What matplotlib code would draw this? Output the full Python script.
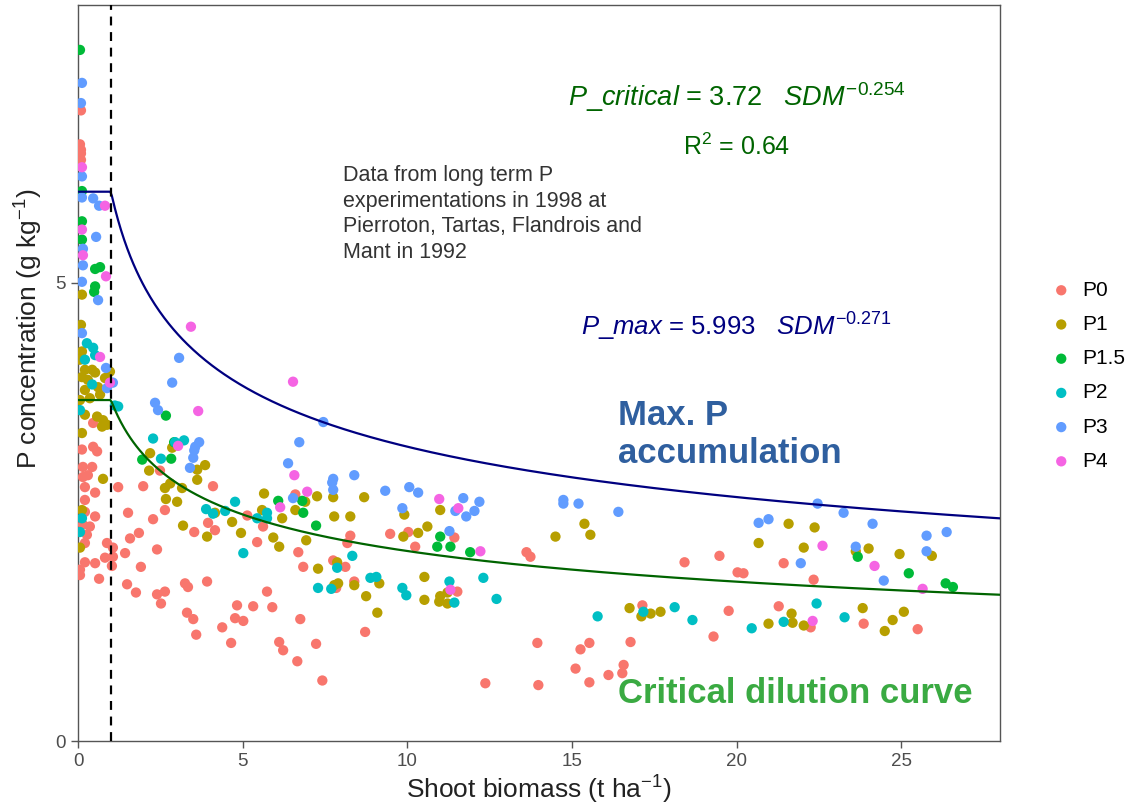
import numpy as np
import matplotlib
matplotlib.use("Agg")
import matplotlib.pyplot as plt

plt.rcParams['font.family'] = ['Liberation Sans', 'DejaVu Sans']
plt.rcParams['mathtext.fontset'] = 'custom'
plt.rcParams['mathtext.rm'] = 'Liberation Sans'
plt.rcParams['mathtext.it'] = 'Liberation Sans:italic'

# ---- data (shoot biomass t/ha, P concentration g/kg) ----
p0_x = [0.09, 0.06, 0.09, 0.09, 0.09, 0.12, 0.46, 0.58, 0.15, 0.43, 0.15, 0.30, 0.21, 0.52,
        0.21, 1.22, 1.98, 0.21, 0.52, 0.15, 0.36, 0.27, 0.21, 0.88, 1.06, 0.82, 1.06, 0.21,
        0.52, 1.03, 1.43, 0.06, 0.06, 0.64, 1.49, 1.76, 1.52, 1.58, 1.85, 2.40, 1.91, 2.28,
        2.64, 2.40, 2.64, 2.52, 3.25, 3.34, 2.49, 4.10, 3.95, 4.16, 3.53, 3.31, 3.50, 3.59,
        4.38, 4.65, 4.83, 4.77, 5.02, 5.32, 5.44, 3.92, 5.14, 5.62, 6.69, 6.84, 5.74, 5.90,
        6.75, 6.11, 6.23, 7.23, 6.66, 7.42, 6.60, 7.75, 8.12, 7.84, 8.39, 8.27, 8.18, 8.72,
        9.48, 10.03, 10.24, 11.43, 11.52, 12.37, 13.62, 13.74, 13.95, 13.98, 15.11, 15.26,
        15.53, 15.53, 16.11, 16.57, 16.53, 16.78, 17.14, 18.42, 19.30, 19.48, 19.76, 20.03,
        20.21, 21.28, 21.43, 22.34, 22.25, 23.86, 25.50, 0.46]
p0_y = [6.88, 6.51, 6.45, 6.41, 6.34, 3.18, 3.21, 3.16, 2.99, 2.99, 2.88, 2.90, 2.77, 2.71,
        2.63, 2.77, 2.78, 2.50, 2.45, 2.36, 2.34, 2.25, 2.16, 2.16, 2.11, 2.00, 2.01, 1.95,
        1.94, 1.91, 2.05, 1.87, 1.81, 1.77, 1.71, 1.62, 2.49, 2.21, 2.27, 2.09, 1.90, 2.42,
        2.52, 1.60, 1.63, 1.50, 1.72, 1.68, 2.95, 2.78, 2.38, 2.30, 2.28, 1.40, 1.33, 1.16,
        1.24, 1.07, 1.48, 1.34, 1.31, 1.47, 2.17, 1.74, 2.46, 2.34, 2.06, 1.90, 1.63, 1.46,
        1.33, 1.08, 0.99, 1.06, 0.87, 0.66, 2.69, 1.97, 1.90, 1.67, 1.74, 2.24, 2.16, 1.19,
        2.26, 2.28, 2.12, 2.22, 1.63, 0.63, 2.06, 2.01, 1.07, 0.61, 0.79, 1.00,
        1.07, 0.64, 0.72, 0.83, 0.74, 1.08, 1.48, 1.95, 1.14, 2.02, 1.42, 1.84,
        1.83, 1.47, 1.94, 1.76, 1.24, 1.28, 1.22, 3.47]

p1_x = [0.12, 0.09, 0.12, 0.21, 0.43, 0.52, 0.12, 0.21, 0.61, 0.06, 0.36, 0.67, 0.82, 0.21,
        0.58, 0.76, 0.73, 0.88, 0.12, 0.76, 0.12, 0.06, 0.30, 0.97, 0.06,
        2.19, 2.86, 3.86, 3.62, 2.16, 3.62, 2.64, 2.80, 3.16, 2.67, 3.01, 4.16, 3.19, 4.68,
        3.92, 4.95, 5.65, 5.59, 6.20, 5.93, 6.11, 6.60, 6.90, 6.93, 7.26, 7.75, 8.69, 7.78,
        8.27, 9.91, 11.00, 10.61, 10.33, 9.88, 7.29, 7.87, 7.78, 7.90, 8.39, 9.15, 8.75,
        9.09, 10.52, 10.52, 11.00, 11.22, 10.97, 11.22, 14.50, 15.38, 15.56, 16.75, 17.11,
        17.39, 17.69, 21.58, 22.37, 20.67, 22.04, 23.62, 24.01, 24.95, 25.93, 21.67, 23.83,
        25.08, 24.74, 20.97, 21.70, 22.04, 24.50]
p1_y = [4.87, 4.54, 4.25, 4.05, 4.05, 4.02, 3.97, 3.83, 3.86, 3.72, 3.74, 3.78, 3.96, 3.56,
        3.54, 3.50, 3.43, 3.45, 3.36, 2.86, 2.52, 2.11, 3.94, 4.03, 4.16,
        3.14, 3.20, 3.01, 2.96, 2.95, 2.85, 2.76, 2.81, 2.76, 2.64, 2.61, 2.49, 2.35, 2.39,
        2.23, 2.27, 2.70, 2.52, 2.43, 2.22, 2.12, 2.52, 2.61, 2.19, 2.67, 2.66, 2.66, 2.45,
        2.45, 2.47, 2.52, 2.34, 2.27, 2.23, 1.88, 1.95, 1.70, 1.72, 1.70, 1.72, 1.58,
        1.40, 1.79, 1.54, 1.58, 1.62, 1.52, 1.50, 2.23, 2.37, 2.25, 1.45, 1.36,
        1.39, 1.41, 2.37, 2.33, 2.16, 2.11, 2.07, 2.10, 2.04, 2.02, 1.39, 1.45,
        1.41, 1.32, 1.28, 1.29, 1.26, 1.20]

p15_x = [0.06, 0.12, 0.12, 0.12, 0.52, 0.67, 0.52, 0.49, 2.67, 2.92, 1.95, 2.83, 6.08, 6.81,
         6.84, 7.23, 11.00, 10.91, 11.31, 11.91, 23.68, 25.23, 26.35, 26.57]
p15_y = [7.54, 6.00, 5.67, 5.47, 5.15, 5.17, 4.96, 4.90, 3.55, 3.26, 3.07, 3.08, 2.62, 2.62,
         2.49, 2.35, 2.23, 2.12, 2.12, 2.06, 2.01, 1.83, 1.72, 1.68]

p2_x = [0.27, 0.46, 0.52, 0.21, 0.43, 0.06, 1.12, 1.22, 0.06, 0.12, 2.28, 2.95, 3.22, 2.52,
        3.89, 4.10, 4.47, 4.77, 5.44, 5.74, 5.74, 5.02, 7.87, 8.33, 7.29, 7.69, 8.88, 9.06,
        9.85, 9.97, 11.28, 11.43, 12.31, 12.71, 15.78, 17.17, 18.12, 18.66, 22.43, 23.28,
        20.46, 21.43]
p2_y = [4.34, 4.29, 4.21, 4.16, 3.89, 3.61, 3.66, 3.65, 2.28, 2.43, 3.30, 3.26, 3.28, 3.08,
        2.53, 2.48, 2.51, 2.61, 2.43, 2.49, 2.43, 2.05, 1.89, 2.02, 1.67, 1.66, 1.78, 1.79,
        1.67, 1.59, 1.74, 1.51, 1.78, 1.55, 1.36, 1.41, 1.46, 1.32, 1.50, 1.35,
        1.23, 1.30]

p3_x = [0.12, 0.09, 0.12, 0.12, 0.46, 0.64, 0.55, 0.15, 0.15, 0.12, 0.61, 0.12, 0.85, 0.88,
        1.06, 3.07, 2.86, 2.34, 2.43, 3.68, 3.56, 3.53, 3.50, 3.40, 7.45, 6.72, 6.38, 7.75,
        7.72, 7.75, 8.39, 9.33, 10.06, 10.33, 9.85, 11.70, 12.19, 11.46, 11.79, 12.04, 11.28,
        6.53, 14.74, 14.74, 15.20, 16.41, 22.46, 23.25, 24.13, 20.67, 20.97, 25.77, 26.38,
        23.62, 25.77, 21.95, 24.47]
p3_y = [7.18, 6.96, 6.16, 5.93, 5.92, 5.84, 5.50, 5.37, 5.19, 5.01, 4.81, 4.45, 4.07, 3.85,
        3.91, 4.18, 3.91, 3.69, 3.61, 3.26, 3.21, 3.17, 3.09, 2.98, 3.48, 3.26, 3.03, 2.86,
        2.82, 2.74, 2.90, 2.73, 2.77, 2.71, 2.54, 2.65, 2.61, 2.51, 2.45, 2.51, 2.29,
        2.65, 2.63, 2.59, 2.59, 2.50, 2.59, 2.49, 2.37, 2.38, 2.42, 2.24, 2.28,
        2.12, 2.07, 1.94, 1.75]

p4_x = [0.12, 0.82, 0.12, 0.15, 0.85, 0.67, 0.97, 3.43, 3.65, 3.04, 6.53, 6.57, 6.96, 6.14,
        10.97, 11.55, 12.22, 11.31, 22.61, 24.19, 25.65, 22.31]
p4_y = [6.26, 5.84, 5.58, 5.30, 5.07, 4.19, 3.91, 4.52, 3.60, 3.22, 3.92, 2.90, 2.72, 2.55,
        2.64, 2.54, 2.07, 1.65, 2.13, 1.91, 1.66, 1.31]

groups = ['P0', 'P1', 'P1.5', 'P2', 'P3', 'P4']
group_x = [p0_x, p1_x, p15_x, p2_x, p3_x, p4_x]
group_y = [p0_y, p1_y, p15_y, p2_y, p3_y, p4_y]
colors = ['#F8766D', '#B79F00', '#00BA38', '#00BFC4', '#619CFF', '#F564E3']

# dilution curve parameters
a_max, b_max = 5.993, -0.271
a_crit, b_crit = 3.72, -0.254

fig = plt.figure(figsize=(11.28, 8.09), dpi=100)
ax = fig.add_axes([78 / 1128, 68 / 809, 922 / 1128, 736 / 809])

for name, xs, ys, c in zip(groups, group_x, group_y, colors):
    ax.scatter(xs, ys, s=55, color=c, edgecolors='none', label=name, zorder=3)

xx = np.linspace(0, 28, 600)
ax.plot(xx, np.where(xx < 1, a_max, a_max * np.maximum(xx, 1) ** b_max), color='#000080', lw=1.6, zorder=4)
ax.plot(xx, np.where(xx < 1, a_crit, a_crit * np.maximum(xx, 1) ** b_crit), color='#006400', lw=1.6, zorder=4)
ax.axvline(1, color='black', ls=(0, (4, 3)), lw=1.6, zorder=5)

ax.set_xlim(0, 28)
ax.set_ylim(0, 8.03)
ax.set_xticks([0, 5, 10, 15, 20, 25])
ax.set_yticks([0, 5])
for s in ax.spines.values():
    s.set_color('#555555')
    s.set_linewidth(1.0)
ax.tick_params(colors='#555555', labelcolor='#4d4d4d', labelsize=13.5, length=5, width=1)
ax.set_xlabel('Shoot biomass (t ha$^{-1}$)', fontsize=19, color='#222222', labelpad=3)
ax.set_ylabel('P concentration (g kg$^{-1}$)', fontsize=19, color='#222222')
ax.yaxis.set_label_coords(-0.036, 0.56)

ax.text(20.0, 7.02, r'$\it{P\_critical}$ = 3.72   $\it{SDM}^{-0.254}$', color='#006400',
        fontsize=19.5, ha='center', va='center')
ax.text(20.0, 6.48, r'R$^2$ = 0.64', color='#006400', fontsize=18, ha='center', va='center')
ax.text(8.05, 5.75, 'Data from long term P\nexperimentations in 1998 at\nPierroton, Tartas, Flandrois and\nMant in 1992',
        color='#333333', fontsize=15.5, ha='left', va='center', linespacing=1.3)
ax.text(20.0, 4.52, r'$\it{P\_max}$ = 5.993   $\it{SDM}^{-0.271}$', color='#000080',
        fontsize=18.5, ha='center', va='center')
ax.text(16.4, 3.34, 'Max. P\naccumulation', color='#2f5f9f', fontsize=25, fontweight='bold',
        ha='left', va='center', linespacing=1.2)
ax.text(16.4, 0.52, 'Critical dilution curve', color='#3aaa42', fontsize=25, fontweight='bold',
        ha='left', va='center')

fig.legend(loc='upper left', bbox_to_anchor=(1030 / 1128, 1 - 262 / 809), frameon=False,
           fontsize=15, handlelength=1.2, handletextpad=0.4, labelspacing=0.73, markerscale=1.0)

fig.savefig('out.png', dpi=100)
